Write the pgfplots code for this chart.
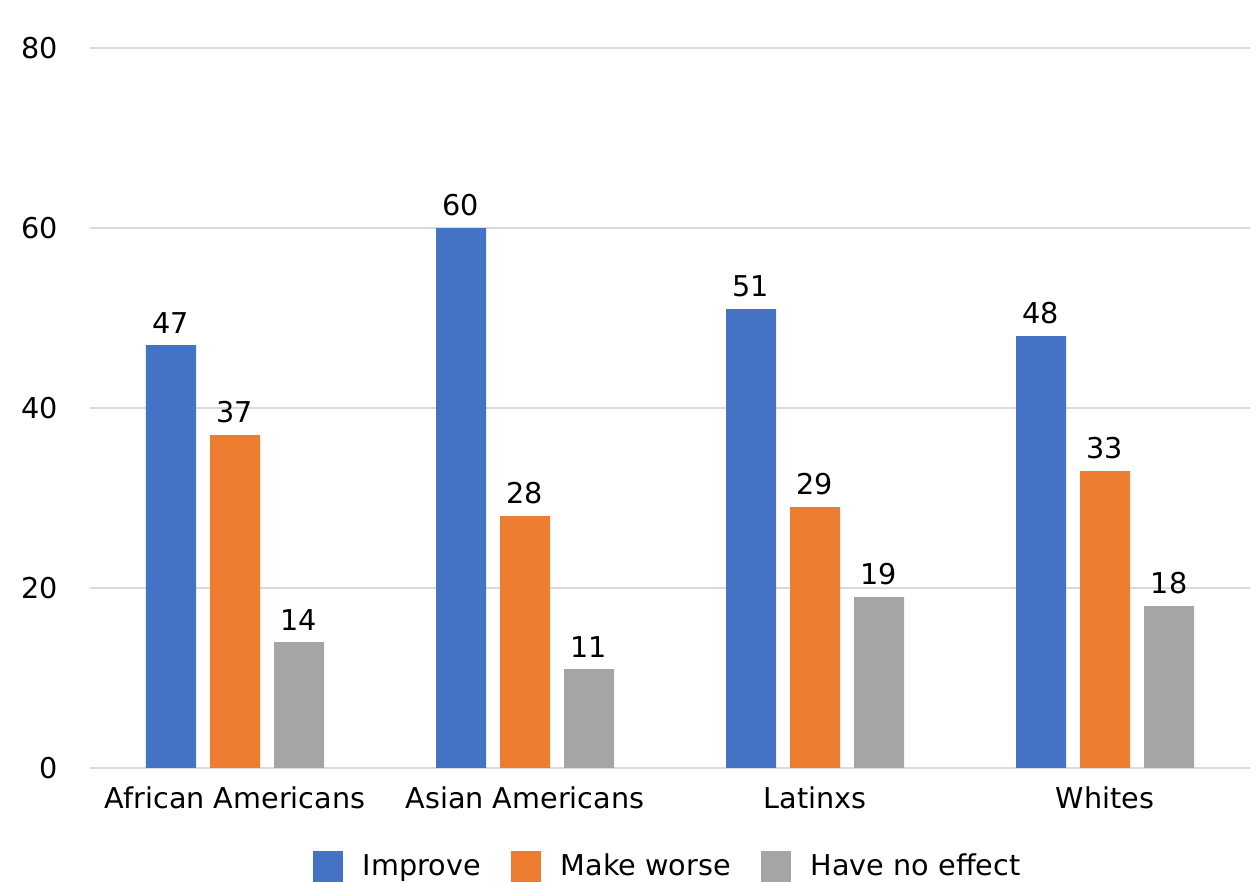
\documentclass[border=0pt]{standalone}
\usepackage{pgfplots}
\pgfplotsset{compat=1.18}
\usepackage{fontspec}
\setmainfont{DejaVu Sans}
\definecolor{cblue}{HTML}{4472C4}
\definecolor{corange}{HTML}{ED7D31}
\definecolor{cgray}{HTML}{A5A5A5}
\definecolor{gridc}{HTML}{D9D9D9}
\begin{document}
\begin{tikzpicture}
\begin{axis}[
  at={(0,0)}, anchor=south west,
  scale only axis, width=348pt, height=216pt,
  ybar=4.2pt, bar width=15pt,
  xmin=-0.5, xmax=3.5, ymin=0, ymax=80,
  xtick={0,1,2,3},
  xticklabels={African Americans, Asian Americans, Latinxs, Whites},
  ytick={0,20,40,60,80},
  ymajorgrids, grid style={gridc, line width=0.6pt},
  axis x line*=bottom, axis y line*=left,
  x axis line style={gridc, line width=0.6pt},
  y axis line style={draw=none},
  major tick length=0pt,
  tick label style={font=\fontsize{8.6}{10}\selectfont},
  /pgf/number format/assume math mode=true,
  nodes near coords,
  every node near coord/.append style={font=\fontsize{8.6}{10}\selectfont},
  legend style={at={(0.5,-36pt)}, anchor=south, draw=none, legend columns=3,
    font=\fontsize{8.6}{10}\selectfont, inner sep=0pt,
    /tikz/every odd column/.append style={column sep=4pt},
    /tikz/every even column/.append style={column sep=7pt}},
  legend image code/.code={\fill[#1] (0pt,-5pt) rectangle (9pt,5pt);},
  yticklabel style={xshift=-6pt},
  xticklabel style={yshift=-2pt},
]
\addplot[fill=cblue, draw=none] coordinates {(0,47) (1,60) (2,51) (3,48)};
\addplot[fill=corange, draw=none] coordinates {(0,37) (1,28) (2,29) (3,33)};
\addplot[fill=cgray, draw=none] coordinates {(0,14) (1,11) (2,19) (3,18)};
\legend{Improve, Make worse, Have no effect}
\end{axis}
\pgfresetboundingbox
\path (-27pt,-34.2pt) rectangle (350.4pt,230.4pt);
\end{tikzpicture}
\end{document}
